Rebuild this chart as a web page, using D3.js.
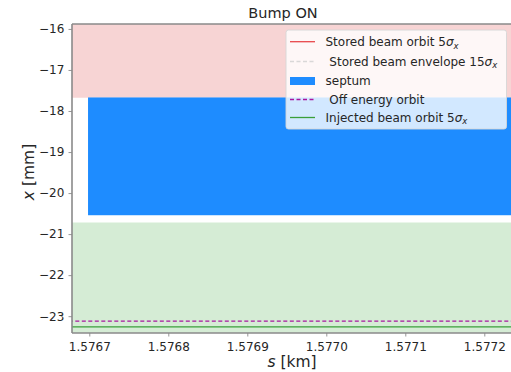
<!DOCTYPE html>
<html>
<head>
<meta charset="utf-8">
<script src="https://cdn.jsdelivr.net/npm/d3@7/dist/d3.min.js"></script>
<style>
  html, body { margin: 0; padding: 0; background: #fff; }
  svg { display: block; font-family: "DejaVu Sans", sans-serif; }
</style>
</head>
<body>
<svg id="chart" width="511" height="372"></svg>
<script>
// Longitudinal position window [km] and transverse range [mm]
const sDomain = [1.5766781, 1.5772338];
const xDomain = [-15.88, -23.41];
const sTicks = [1.5767, 1.5768, 1.5769, 1.5770, 1.5771, 1.5772];
const xTicks = [-16, -17, -18, -19, -20, -21, -22, -23];

// Orbit / envelope samples along s
const sSamples = [1.5766, 1.5773];
const storedOrbit = [-14.5, -14.5];
const storedEnvUpper = [-13.2, -13.2];
const storedEnvLower = [-17.68, -17.68];
const offEnergyOrbit = [-23.12, -23.12];
const injectedOrbit = [-23.26, -23.26];
const injectedEnvUpper = [-20.72, -20.72];
const injectedEnvLower = [-25.8, -25.8];

// Septum blade: s extent and x extent
const septumS = [1.5766984, 1.5773];
const septumX = [-17.67, -20.54];

const legendLabels = [
  "Stored beam orbit 5σx",
  " Stored beam envelope 15σx",
  "septum",
  " Off energy orbit",
  "Injected beam orbit 5σx"
];

const svg = d3.select("#chart");
const m = { left: 72, top: 24, right: 511, bottom: 333 };

const sx = d3.scaleLinear().domain(sDomain).range([m.left, m.right]);
const sy = d3.scaleLinear().domain(xDomain).range([m.top, m.bottom]);

svg.append("defs").append("clipPath").attr("id", "plotclip")
  .append("rect").attr("x", m.left).attr("y", m.top)
  .attr("width", m.right - m.left).attr("height", m.bottom - m.top);

const plot = svg.append("g").attr("clip-path", "url(#plotclip)");

const pts = (arr) => sSamples.map((s, i) => [s, arr[i]]);
const band = (up, lo) => d3.area()
  .x((d, i) => sx(sSamples[i]))
  .y0((d, i) => sy(lo[i]))
  .y1((d, i) => sy(up[i]))(sSamples);
const line = d3.line().x(d => sx(d[0])).y(d => sy(d[1]));

// stored beam envelope
plot.append("path").attr("d", band(storedEnvUpper, storedEnvLower))
  .attr("fill", "#d62728").attr("fill-opacity", 0.2);
// injected beam envelope
plot.append("path").attr("d", band(injectedEnvUpper, injectedEnvLower))
  .attr("fill", "#2ca02c").attr("fill-opacity", 0.2);
// septum
plot.append("rect")
  .attr("x", sx(septumS[0])).attr("y", sy(septumX[0]))
  .attr("width", sx(septumS[1]) - sx(septumS[0]))
  .attr("height", sy(septumX[1]) - sy(septumX[0]))
  .attr("fill", "#1e8cff");
// orbits
plot.append("path").attr("d", line(pts(storedOrbit)))
  .attr("stroke", "#e8474a").attr("stroke-width", 1.2).attr("fill", "none");
plot.append("path").attr("d", line(pts(offEnergyOrbit)))
  .attr("stroke", "#a8169f").attr("stroke-width", 1.3)
  .attr("stroke-dasharray", "4,2.5").attr("fill", "none");
plot.append("path").attr("d", line(pts(injectedOrbit)))
  .attr("stroke", "#3a9f3a").attr("stroke-width", 1.2).attr("fill", "none");

// axes
const axisColor = "#8a8a8a";
const xAxis = svg.append("g").attr("transform", `translate(0,${m.bottom})`)
  .call(d3.axisBottom(sx).tickValues(sTicks).tickFormat(d3.format(".4f")).tickSizeOuter(0).tickSize(3.5));
const yAxis = svg.append("g").attr("transform", `translate(${m.left},0)`)
  .call(d3.axisLeft(sy).tickValues(xTicks).tickFormat(d => d3.format("d")(d).replace("-", "\u2212")).tickSizeOuter(0).tickSize(3.5));
[xAxis, yAxis].forEach(a => {
  a.select(".domain").remove();
  a.selectAll("line").attr("stroke", axisColor).attr("stroke-width", 0.9);
  a.selectAll("text").attr("font-family", "DejaVu Sans").attr("font-size", 12).attr("fill", "#262626");
});
xAxis.selectAll("text").attr("dy", "0.95em");
yAxis.selectAll("text").attr("dx", "-0.1em");

// spines
svg.append("line").attr("x1", m.left).attr("x2", m.left).attr("y1", m.top).attr("y2", m.bottom)
  .attr("stroke", axisColor).attr("stroke-width", 1.6);
svg.append("line").attr("x1", m.left).attr("x2", m.right).attr("y1", m.bottom).attr("y2", m.bottom)
  .attr("stroke", axisColor).attr("stroke-width", 1.6);
svg.append("line").attr("x1", m.left).attr("x2", m.right).attr("y1", m.top).attr("y2", m.top)
  .attr("stroke", axisColor).attr("stroke-width", 1.6);

// title and axis labels
svg.append("text").attr("x", 283).attr("y", 18).attr("text-anchor", "middle")
  .attr("font-size", 14.5).attr("fill", "#262626").text("Bump ON");
const xl = svg.append("text").attr("x", 292).attr("y", 367).attr("text-anchor", "middle")
  .attr("font-size", 15.5).attr("fill", "#262626");
xl.append("tspan").attr("font-style", "italic").text("s");
xl.append("tspan").text(" [km]");
const yl = svg.append("text").attr("transform", "translate(34,172) rotate(-90)")
  .attr("text-anchor", "middle").attr("font-size", 15.5).attr("fill", "#262626");
yl.append("tspan").attr("font-style", "italic").text("x");
yl.append("tspan").text(" [mm]");

// legend
const lg = svg.append("g");
lg.append("rect").attr("x", 286).attr("y", 30).attr("width", 220.5).attr("height", 99)
  .attr("rx", 2.5).attr("fill", "#fff").attr("fill-opacity", 0.8)
  .attr("stroke", "#d6d6d6").attr("stroke-width", 0.9);
const rowY = [41.7, 61.5, 81, 99.5, 117.5];
const styles = [
  { type: "line", color: "#e8474a", dash: null, op: 1 },
  { type: "line", color: "#cfcfcf", dash: "4,2.5", op: 0.8 },
  { type: "patch", color: "#1e8cff" },
  { type: "line", color: "#a8169f", dash: "4,2.5", op: 1 },
  { type: "line", color: "#3a9f3a", dash: null, op: 1 }
];
legendLabels.forEach((lab, i) => {
  const st = styles[i], y = rowY[i];
  if (st.type === "patch") {
    lg.append("rect").attr("x", 290).attr("y", y - 4).attr("width", 25).attr("height", 8).attr("fill", st.color);
  } else {
    lg.append("line").attr("x1", 290).attr("x2", 315).attr("y1", y).attr("y2", y)
      .attr("stroke", st.color).attr("stroke-width", 1.3).attr("stroke-opacity", st.op)
      .attr("stroke-dasharray", st.dash);
  }
  const t = lg.append("text").attr("x", 325.5).attr("y", y + 4.3).attr("font-size", 12)
    .attr("fill", "#262626").attr("xml:space", "preserve").style("white-space", "pre");
  const m2 = lab.match(/^(.*)σx$/);
  if (m2) {
    t.append("tspan").text(m2[1]);
    t.append("tspan").attr("font-style", "italic").text("σ");
    t.append("tspan").attr("font-style", "italic").attr("font-size", 8.5).attr("dy", 2.5).text("x");
  } else {
    t.text(lab);
  }
});
</script>
</body>
</html>
